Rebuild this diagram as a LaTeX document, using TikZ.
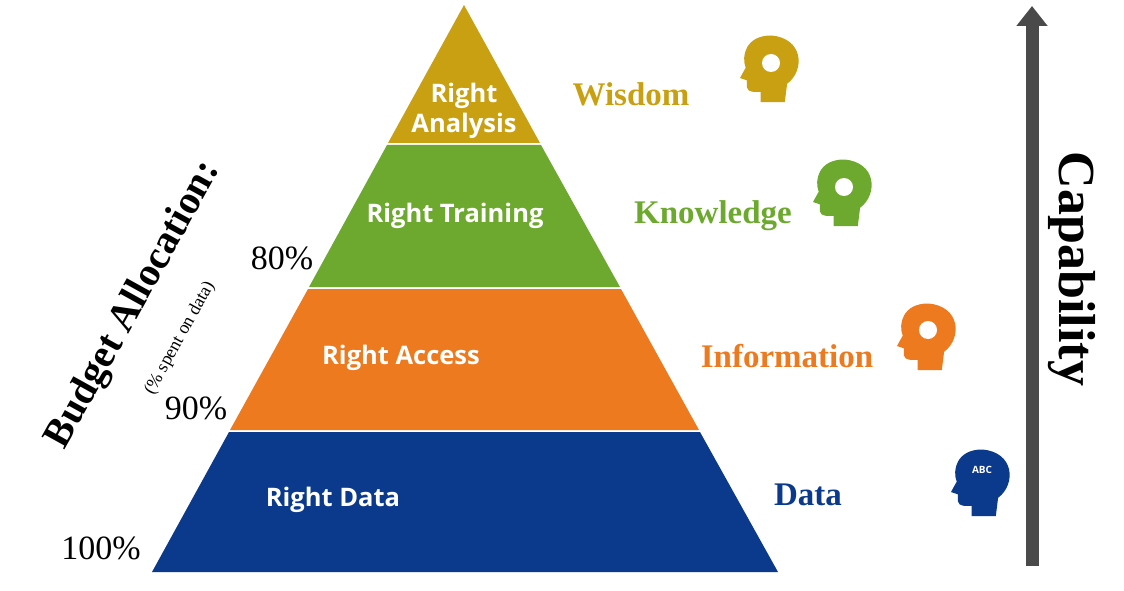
\documentclass[tikz,border=0pt]{standalone}
\usepackage{fontspec}
\setsansfont{Open Sans}
\newfontfamily\labelfont{Liberation Serif}
\usetikzlibrary{arrows.meta}
\definecolor{wisdomgold}{HTML}{C9A012}
\definecolor{knowgreen}{HTML}{6EA92F}
\definecolor{infoorange}{HTML}{EE7A1F}
\definecolor{datablue}{HTML}{0B3A8C}
\definecolor{arrowgrey}{HTML}{4A4A4A}
\tikzset{
  layertext/.style={text=white, font=\sffamily\bfseries\fontsize{25.5}{30}\selectfont, align=center},
  levellabel/.style={font=\labelfont\bfseries\fontsize{33}{36}\selectfont},
  percent/.style={font=\labelfont\fontsize{34}{36}\selectfont},
  headicon/.pic={
    \fill[#1] (12,28) -- (14,12) .. controls (30,0) and (28,-28) .. (0,-30)
      .. controls (-22,-30) and (-26,-12) .. (-22,-2) -- (-27,7) -- (-21,9)
      -- (-21,15) .. controls (-20,20) and (-14,19) .. (-9,19) -- (-9,28) -- cycle;
  }
}
\begin{document}
\begin{tikzpicture}[x=1pt,y=-1pt]
  \useasboundingbox (0,0) rectangle (1124,591);
  % pyramid layers
  \fill[wisdomgold] (464,5) -- (540,143) -- (388,143) -- cycle;
  \fill[knowgreen] (387,145) -- (541,145) -- (620,287) -- (309,287) -- cycle;
  \fill[infoorange] (308,289) -- (621,289) -- (699,430) -- (230,430) -- cycle;
  \fill[datablue] (229,432) -- (700,432) -- (778,572) -- (152,572) -- cycle;

  \node[layertext] (analysis) at (464,111) {Right\\Analysis};
  \node[layertext] (training) at (455,216) {Right Training};
  \node[layertext] (access) at (401,358) {Right Access};
  \node[layertext] (rdata) at (333,500) {Right Data};

  % levels
  \node[levellabel, text=wisdomgold] (wisdom) at (631,94) {Wisdom};
  \node[levellabel, text=knowgreen] (knowledge) at (713,216) {Knowledge};
  \node[levellabel, text=infoorange] (information) at (787,356) {Information};
  \node[levellabel, text=datablue] (data) at (808,495) {Data};

  \pic[scale=1.15] at (771,70) {headicon=wisdomgold};
  \pic[scale=1.15] at (844,194) {headicon=knowgreen};
  \pic[scale=1.15] at (928,338) {headicon=infoorange};
  \pic[scale=1.15] at (982,484) {headicon=datablue};
  \node[text=white, font=\sffamily\bfseries\fontsize{10}{10}\selectfont] (abc) at (982,470) {ABC};
  \foreach \px/\py in {844/187, 928/330, 771/63}
    \fill[white] (\px,\py) circle (9);

  % budget
  \node[percent] (p80) at (282,258) {80\%};
  \node[percent] (p90) at (196,408) {90\%};
  \node[percent] (p100) at (101,548) {100\%};
  \node[font=\labelfont\bfseries\fontsize{40}{42}\selectfont, rotate=61] (budget) at (134,305) {Budget Allocation:};
  \node[font=\labelfont\fontsize{18}{19}\selectfont, rotate=61] (spent) at (180,338) {(\% spent on data)};

  % capability arrow
  \coordinate (capbot) at (1032,566);
  \coordinate (captop) at (1032,6);
  \draw[arrowgrey, line width=13pt, -{Triangle[width=30pt,length=20pt]}] (capbot) -- (captop);
  \node[font=\labelfont\bfseries\fontsize{52}{54}\selectfont, rotate=-90] (capability) at (1072,269) {Capability};
\end{tikzpicture}
\end{document}
